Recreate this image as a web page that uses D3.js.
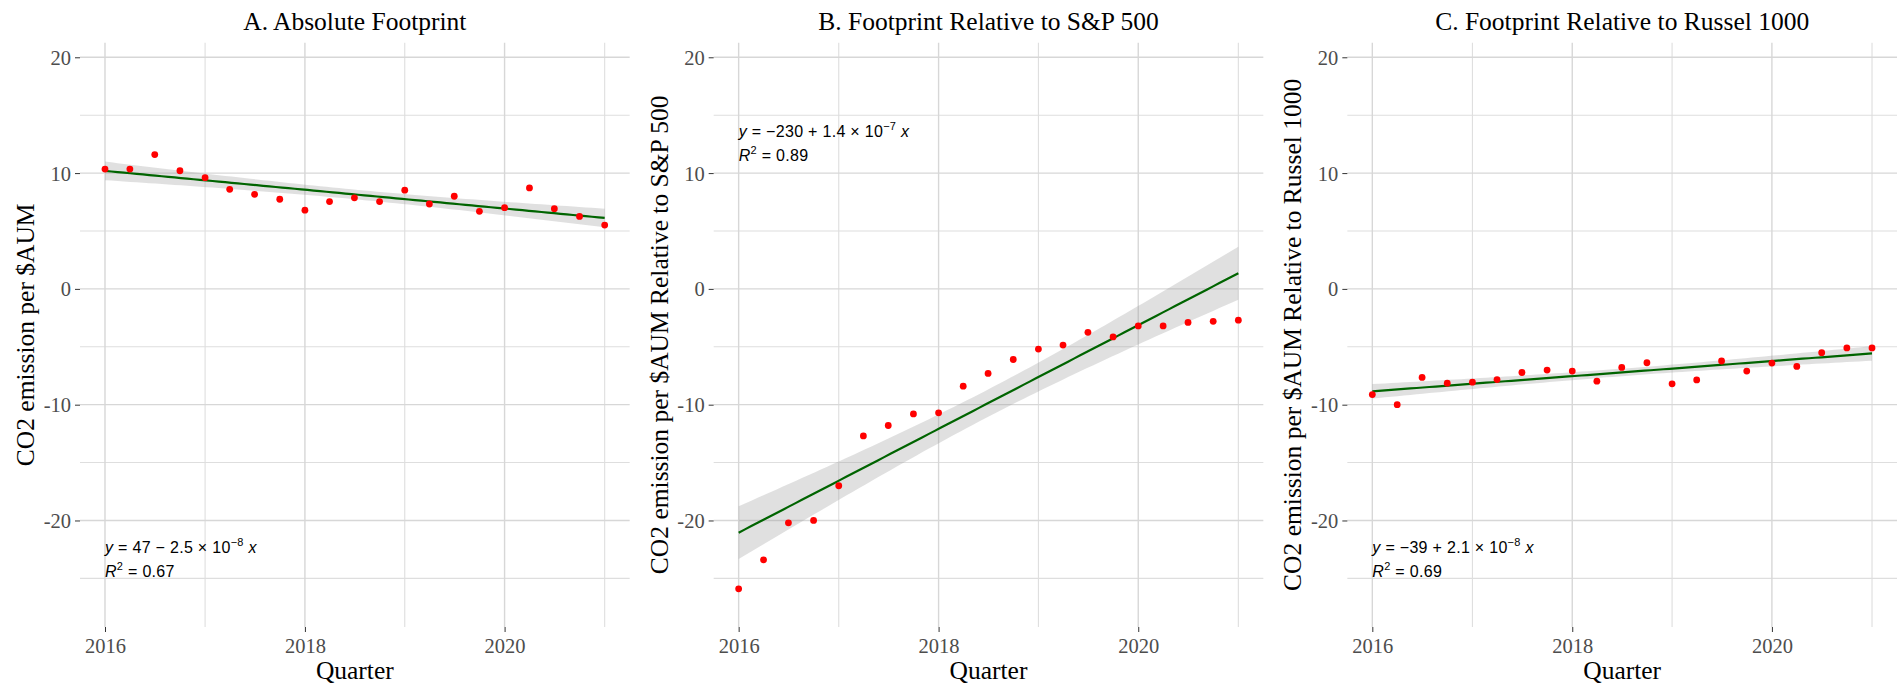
<!DOCTYPE html>
<html lang="en">

<head>
  <meta charset="utf-8">
  <title>CO2 footprint per $AUM</title>
  <script src="https://d3js.org/d3.v7.min.js"></script>
  <style>
    body {
      margin: 0;
      padding: 0;
      overflow: hidden;
      background: #fff;
    }

    .grid-major {
      stroke: #d7d7d7;
      stroke-width: 1.4px;
    }

    .grid-minor {
      stroke: #dedede;
      stroke-width: 1.1px;
    }

    .axis text {
      font-family: "Liberation Serif", "Times New Roman", serif;
      font-size: 20.5px;
      fill: #4d4d4d;
    }

    .axis line {
      stroke: #333;
    }

    .serif {
      font-family: "Liberation Serif", "Times New Roman", serif;
      font-size: 25.5px;
      fill: #000;
    }

    .eq {
      font-family: "Liberation Sans", Arial, sans-serif;
      font-size: 16px;
      letter-spacing: 0.3px;
      fill: #000;
    }
  </style>
</head>

<body>
  <svg id="chart"></svg>

  <script>
    // quarterly observations
    const quarters = [
      "2016-01-01", "2016-04-01", "2016-07-01", "2016-10-01",
      "2017-01-01", "2017-04-01", "2017-07-01", "2017-10-01",
      "2018-01-01", "2018-04-01", "2018-07-01", "2018-10-01",
      "2019-01-01", "2019-04-01", "2019-07-01", "2019-10-01",
      "2020-01-01", "2020-04-01", "2020-07-01", "2020-10-01",
      "2021-01-01"
    ];

    const absoluteFootprint = [10.35, 10.35, 11.6, 10.2, 9.6, 8.6, 8.17, 7.74, 6.8, 7.54, 7.86,
      7.54, 8.52, 7.33, 8.0, 6.7, 7.01, 8.72, 6.93, 6.26, 5.51];
    const relativeSP500 = [-25.9, -23.4, -20.2, -20.0, -17.0, -12.7, -11.8, -10.8, -10.7, -8.4, -7.3,
      -6.1, -5.2, -4.85, -3.75, -4.15, -3.2, -3.2, -2.9, -2.8, -2.7];
    const relativeRussell = [-9.13, -10.0, -7.65, -8.14, -8.06, -7.83, -7.22, -7.01, -7.1, -7.97, -6.78,
      -6.38, -8.2, -7.86, -6.23, -7.1, -6.41, -6.7, -5.51, -5.1, -5.1];

    const panelTitles = ["A. Absolute Footprint", "B. Footprint Relative to S&P 500", "C. Footprint Relative to Russel 1000"];
    const yAxisTitles = ["CO2 emission per $AUM", "CO2 emission per $AUM Relative to S&P 500", "CO2 emission per $AUM Relative to Russel 1000"];
    const xAxisTitle = "Quarter";

    const xTickYears = ["2016", "2018", "2020"];
    const xMinorYears = ["2017", "2019", "2021"];
    const yTicks = [-20, -10, 0, 10, 20];
    const yMinorTicks = [-25, -15, -5, 5, 15];
    const yLimits = [-29.2, 21.26];

    // fitted equation labels as printed
    const eqIntercepts = ["47", "\u2212230", "\u221239"];
    const eqSigns = ["\u2212", "+", "+"];
    const eqSlopes = ["2.5", "1.4", "2.1"];
    const eqExponents = ["\u22128", "\u22127", "\u22128"];
    const rSquared = ["0.67", "0.89", "0.69"];

    const T975 = 2.093; // t quantile, df = 19

    const W = 1901, H = 686, colW = W / 3;
    const M = { left: 80, right: 4, top: 42.7, bottom: 59 };

    const svg = d3.select("#chart").attr("width", W).attr("height", H);

    const parse = d3.timeParse("%Y-%m-%d");
    const dates = quarters.map(parse);
    const span = dates[dates.length - 1] - dates[0];

    const x = d3.scaleTime()
      .domain([new Date(+dates[0] - 0.05 * span), new Date(+dates[dates.length - 1] + 0.05 * span)])
      .range([M.left, colW - M.right]);
    const y = d3.scaleLinear().domain(yLimits).range([H - M.bottom, M.top]);

    const yearDate = s => parse(s + "-01-01");

    // linear fit with 95% confidence band (like geom_smooth(method = "lm"))
    const YEAR = 365.25 * 864e5;
    function fit(values) {
      const t = dates.map(d => (d - dates[0]) / YEAR);
      const n = t.length, tm = d3.mean(t), ym = d3.mean(values);
      const sxx = d3.sum(t, v => (v - tm) ** 2);
      const sxy = d3.sum(t, (v, i) => (v - tm) * (values[i] - ym));
      const b = sxy / sxx, a = ym - b * tm;
      const sse = d3.sum(t, (v, i) => (values[i] - a - b * v) ** 2);
      const s = Math.sqrt(sse / (n - 2));
      return d3.range(80).map(k => {
        const g = t[0] + (t[n - 1] - t[0]) * k / 79;
        const yh = a + b * g;
        const se = s * Math.sqrt(1 / n + (g - tm) ** 2 / sxx);
        return { date: new Date(+dates[0] + g * YEAR), fit: yh, lo: yh - T975 * se, hi: yh + T975 * se };
      });
    }

    const panels = [
      { values: absoluteFootprint, eqAt: -22.8 },
      { values: relativeSP500, eqAt: 13.1 },
      { values: relativeRussell, eqAt: -22.8 }
    ];

    panels.forEach((p, i) => {
      const g = svg.append("g").attr("transform", `translate(${i * colW},0)`);
      const [x0, x1] = x.range();
      const [yb, yt] = y.range();

      // grid
      g.append("g").selectAll("line")
        .data(yMinorTicks).join("line")
        .attr("class", "grid-minor")
        .attr("x1", x0).attr("x2", x1)
        .attr("y1", d => y(d)).attr("y2", d => y(d));
      g.append("g").selectAll("line")
        .data(xMinorYears).join("line")
        .attr("class", "grid-minor")
        .attr("x1", d => x(yearDate(d))).attr("x2", d => x(yearDate(d)))
        .attr("y1", yt).attr("y2", yb);
      g.append("g").selectAll("line")
        .data(yTicks).join("line")
        .attr("class", "grid-major")
        .attr("x1", x0).attr("x2", x1)
        .attr("y1", d => y(d)).attr("y2", d => y(d));
      g.append("g").selectAll("line")
        .data(xTickYears).join("line")
        .attr("class", "grid-major")
        .attr("x1", d => x(yearDate(d))).attr("x2", d => x(yearDate(d)))
        .attr("y1", yt).attr("y2", yb);

      // axes
      const ax = g.append("g").attr("class", "axis")
        .attr("transform", `translate(0,${yb})`)
        .call(d3.axisBottom(x).tickValues(xTickYears.map(yearDate)).tickFormat(d3.timeFormat("%Y")).tickSize(5).tickPadding(0));
      ax.select(".domain").remove();
      ax.selectAll("text").attr("y", 26).attr("dy", null);

      const ay = g.append("g").attr("class", "axis")
        .attr("transform", `translate(${x0},0)`)
        .call(d3.axisLeft(y).tickValues(yTicks).tickFormat(d => String(d)).tickSize(5).tickPadding(4));
      ay.select(".domain").remove();
      ay.selectAll("text").attr("dy", "0.34em");

      // smooth
      const band = fit(p.values);
      g.append("path")
        .datum(band)
        .attr("fill", "#999")
        .attr("fill-opacity", 0.3)
        .attr("d", d3.area().x(d => x(d.date)).y0(d => y(d.lo)).y1(d => y(d.hi)));
      g.append("path")
        .datum(band)
        .attr("fill", "none")
        .attr("stroke", "#006400")
        .attr("stroke-width", 2.2)
        .attr("d", d3.line().x(d => x(d.date)).y(d => y(d.fit)));

      // points
      g.append("g").selectAll("circle")
        .data(p.values).join("circle")
        .attr("cx", (d, k) => x(dates[k]))
        .attr("cy", d => y(d))
        .attr("r", 3.4)
        .attr("fill", "#ff0000");

      // equation label
      const ex = x(dates[0]), ey = y(p.eqAt);
      const eq = g.append("text").attr("class", "eq").attr("x", ex).attr("y", ey);
      eq.append("tspan").attr("font-style", "italic").text("y");
      eq.append("tspan").text(`\u00a0=\u00a0${eqIntercepts[i]}\u00a0${eqSigns[i]}\u00a0${eqSlopes[i]}\u00a0\u00d7\u00a010`);
      eq.append("tspan").attr("font-size", 11).attr("dy", -7).text(eqExponents[i]);
      eq.append("tspan").attr("dy", 7).text("\u00a0");
      eq.append("tspan").attr("font-style", "italic").text("x");

      const r2 = g.append("text").attr("class", "eq").attr("x", ex).attr("y", ey + 24);
      r2.append("tspan").attr("font-style", "italic").text("R");
      r2.append("tspan").attr("font-size", 11).attr("dy", -7).text("2");
      r2.append("tspan").attr("dy", 7).text(`\u00a0=\u00a0${rSquared[i]}`);

      // titles
      const cx = (x0 + x1) / 2;
      g.append("text").attr("class", "serif")
        .attr("x", cx).attr("y", 30)
        .attr("text-anchor", "middle")
        .text(panelTitles[i]);
      g.append("text").attr("class", "serif")
        .attr("x", cx).attr("y", 679)
        .attr("text-anchor", "middle")
        .text(xAxisTitle);
      g.append("text").attr("class", "serif")
        .attr("transform", `translate(34,${(yt + yb) / 2}) rotate(-90)`)
        .attr("text-anchor", "middle")
        .text(yAxisTitles[i]);
    });
  </script>
</body>

</html>
